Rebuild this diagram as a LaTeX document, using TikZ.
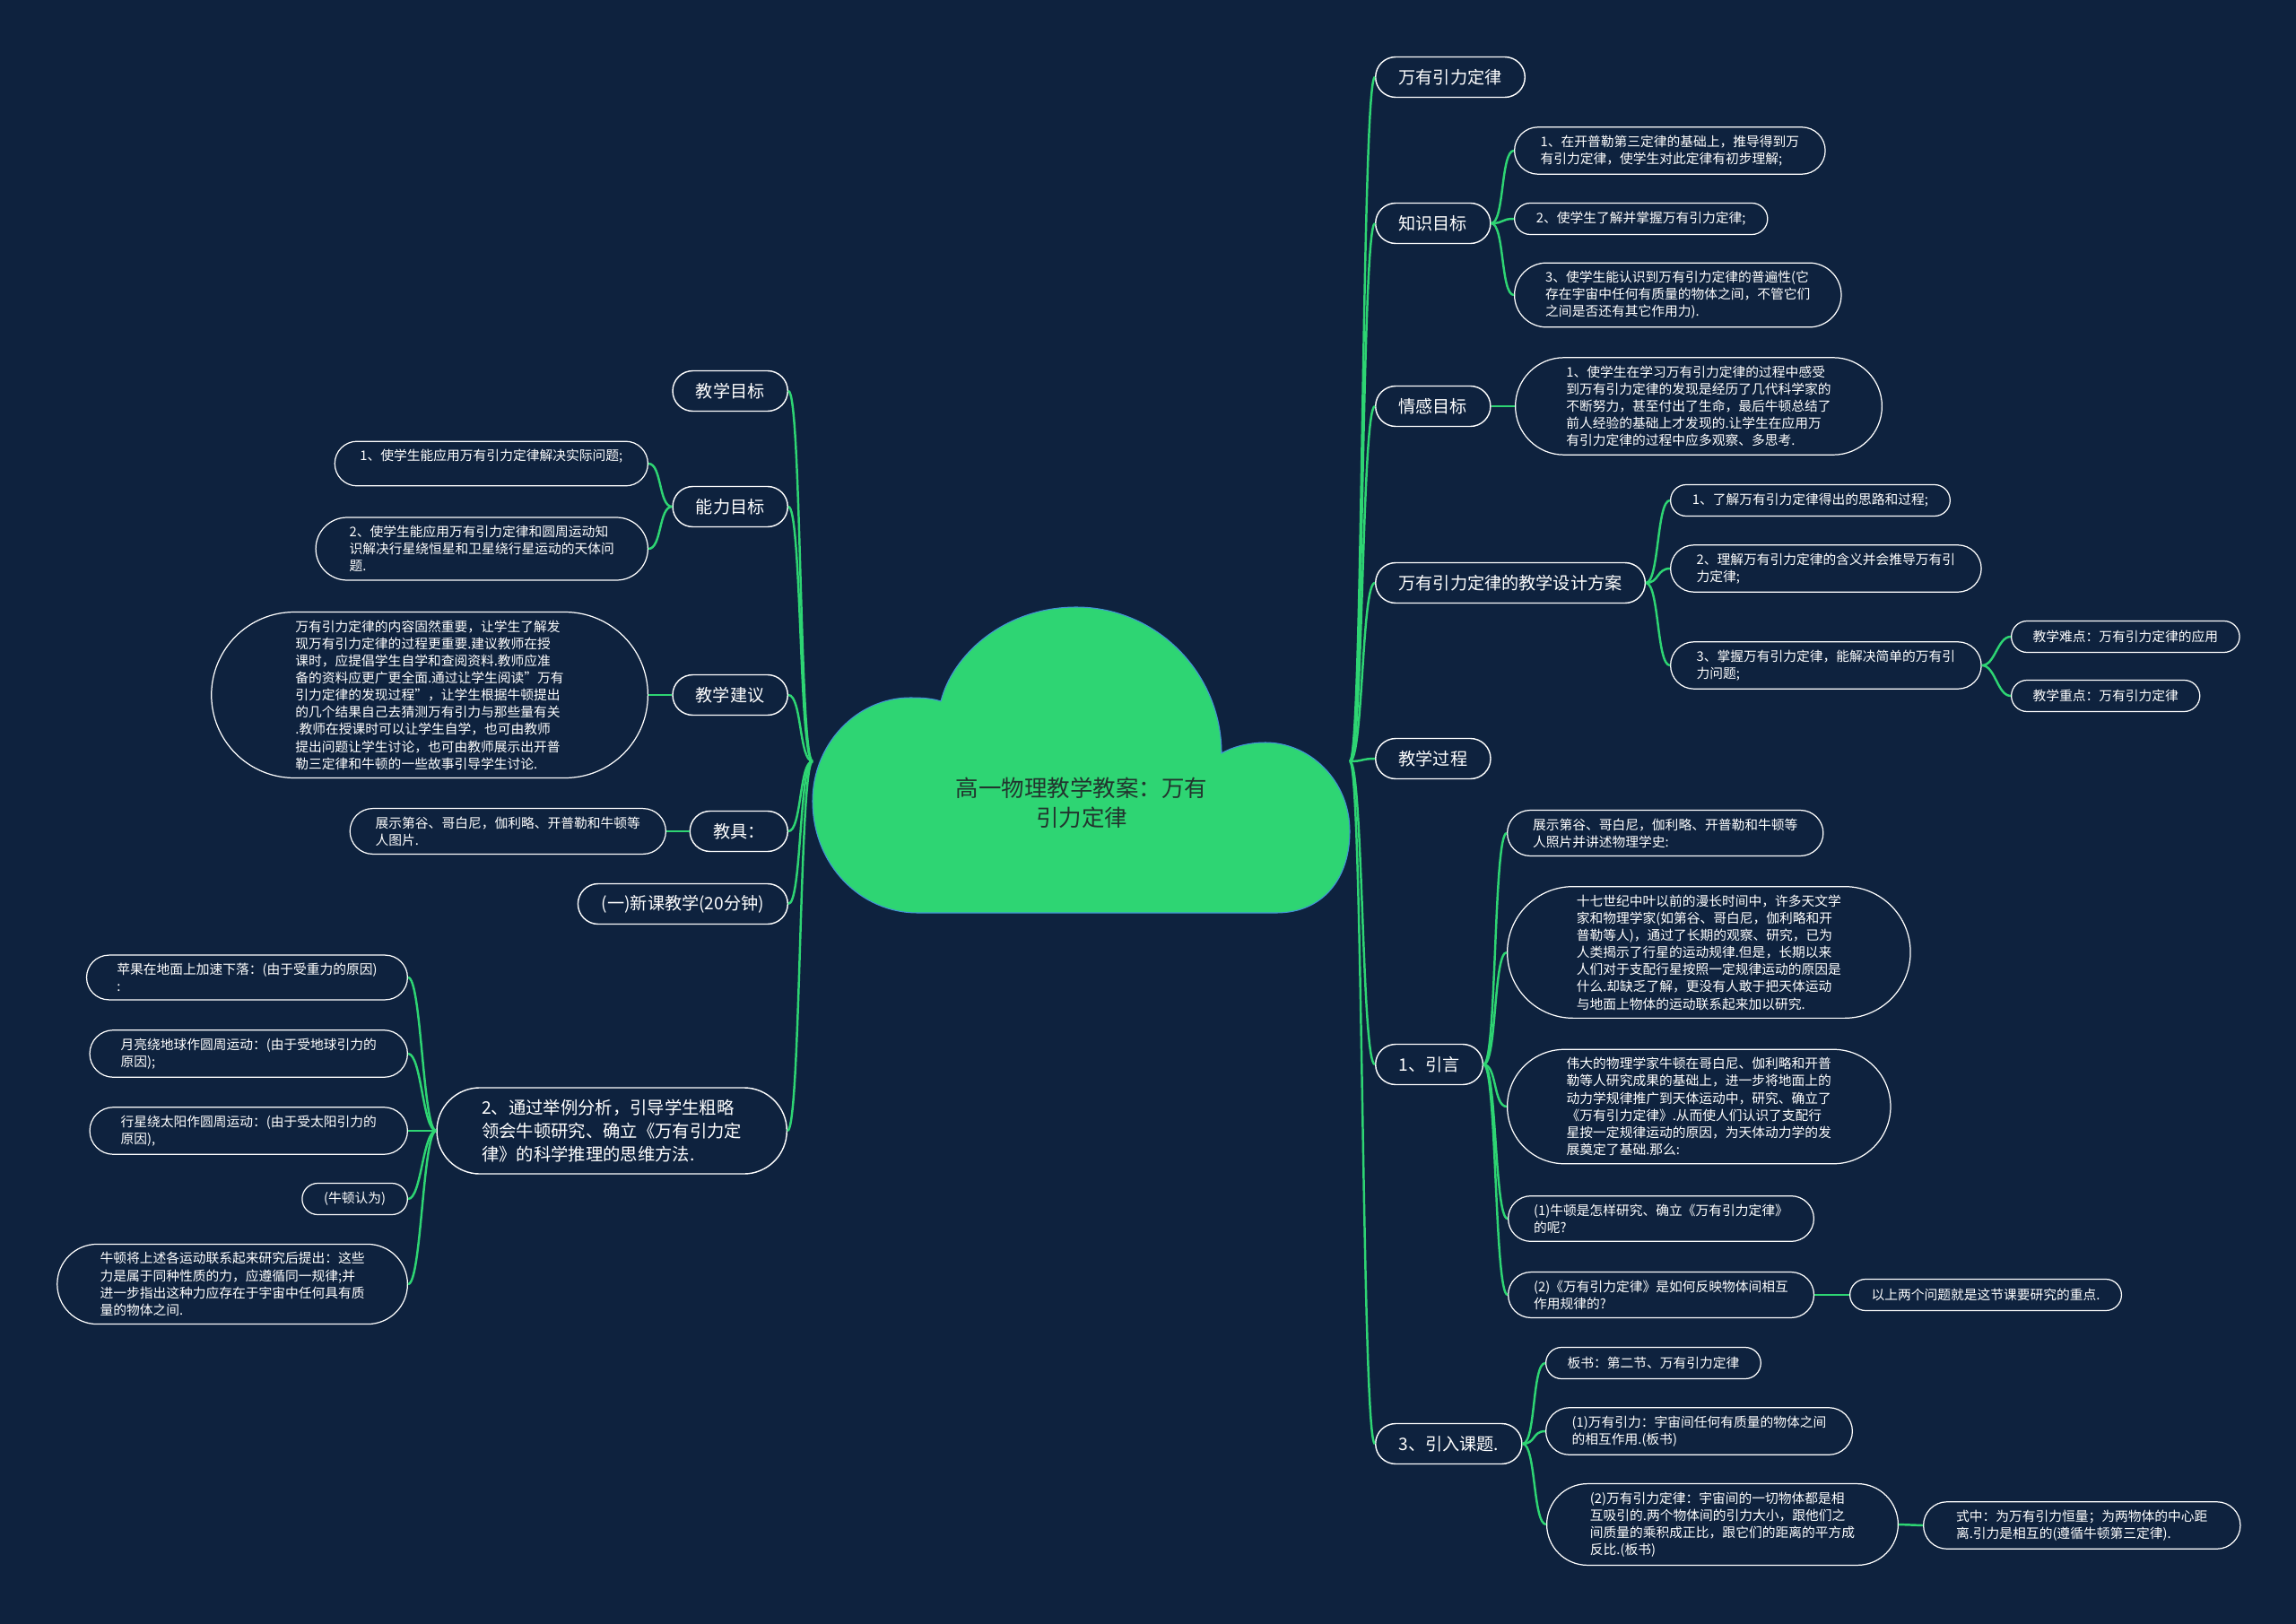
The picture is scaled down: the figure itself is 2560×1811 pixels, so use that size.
\documentclass[tikz,border=0pt]{standalone}
\usepackage{fontspec}
\setmainfont{Noto Sans CJK SC}
\usetikzlibrary{shapes.misc}
\definecolor{bgnavy}{RGB}{14,34,62}
\definecolor{mapgreen}{RGB}{46,213,115}
\definecolor{cloudline}{RGB}{66,146,214}
\definecolor{cloudtext}{RGB}{34,52,46}

\begin{document}
\begin{tikzpicture}[
  x=0.02cm, y=-0.02cm,
  topic/.style={draw=white, line width=0.8pt, fill=bgnavy, text=white, rounded rectangle, font=\fontsize{10.9}{14}\selectfont, inner xsep=0.48cm, inner ysep=0.1cm, minimum height=0.9cm},
  bigtopic/.style={topic, align=left, font=\fontsize{11}{14.8}\selectfont, inner xsep=0.7cm, inner ysep=0.26cm},
  leaf/.style={draw=white, line width=0.7pt, fill=bgnavy, text=white, rounded rectangle, align=left, font=\fontsize{8.4}{10.9}\selectfont, inner xsep=0.45cm, inner ysep=0.18cm, minimum height=0.7cm},
  link/.style={draw=mapgreen, line width=1.4pt}
]
\fill[bgnavy] (0,0) rectangle (2560,1811);

\coordinate (rootL) at (906,849);
\coordinate (rootR) at (1505,849);

% right side
\node[topic, anchor=west] (a1) at (1533,86) {万有引力定律};
\node[topic, anchor=west] (a2) at (1533,249) {知识目标};
\node[topic, anchor=west] (a3) at (1533,453) {情感目标};
\node[topic, anchor=west] (a4) at (1533,650) {万有引力定律的教学设计方案};
\node[topic, anchor=west] (a5) at (1533,846) {教学过程};
\node[topic, anchor=west] (a6) at (1533,1187) {1、引言};
\node[topic, anchor=west] (a7) at (1533,1610) {3、引入课题.};

\node[leaf, anchor=west] (k1) at (1688,168) {1、在开普勒第三定律的基础上，推导得到万\\有引力定律，使学生对此定律有初步理解;};
\node[leaf, anchor=west] (k2) at (1688,244) {2、使学生了解并掌握万有引力定律;};
\node[leaf, anchor=west] (k3) at (1688,329) {3、使学生能认识到万有引力定律的普遍性(它\\存在宇宙中任何有质量的物体之间，不管它们\\之间是否还有其它作用力).};
\node[leaf, anchor=west, inner xsep=0.65cm] (q1) at (1689,453) {1、使学生在学习万有引力定律的过程中感受\\到万有引力定律的发现是经历了几代科学家的\\不断努力，甚至付出了生命，最后牛顿总结了\\前人经验的基础上才发现的.让学生在应用万\\有引力定律的过程中应多观察、多思考.};
\node[leaf, anchor=west] (d1) at (1862,558) {1、了解万有引力定律得出的思路和过程;};
\node[leaf, anchor=west] (d2) at (1862,634) {2、理解万有引力定律的含义并会推导万有引\\力定律;};
\node[leaf, anchor=west] (d3) at (1862,742) {3、掌握万有引力定律，能解决简单的万有引\\力问题;};
\node[leaf, anchor=west] (d3a) at (2242,710) {教学难点：万有引力定律的应用};
\node[leaf, anchor=west] (d3b) at (2242,776) {教学重点：万有引力定律};
\node[leaf, anchor=west] (y1) at (1680,929) {展示第谷、哥白尼，伽利略、开普勒和牛顿等\\人照片并讲述物理学史:};
\node[leaf, anchor=west, inner xsep=0.78cm] (y2) at (1680,1062) {十七世纪中叶以前的漫长时间中，许多天文学\\家和物理学家(如第谷、哥白尼，伽利略和开\\普勒等人)，通过了长期的观察、研究，已为\\人类揭示了行星的运动规律.但是，长期以来\\人们对于支配行星按照一定规律运动的原因是\\什么.却缺乏了解，更没有人敢于把天体运动\\与地面上物体的运动联系起来加以研究.};
\node[leaf, anchor=west, inner xsep=0.7cm] (y3) at (1680,1234) {伟大的物理学家牛顿在哥白尼、伽利略和开普\\勒等人研究成果的基础上，进一步将地面上的\\动力学规律推广到天体运动中，研究、确立了\\《万有引力定律》.从而使人们认识了支配行\\星按一定规律运动的原因，为天体动力学的发\\展奠定了基础.那么:};
\node[leaf, anchor=west] (y4) at (1681,1359) {(1)牛顿是怎样研究、确立《万有引力定律》\\的呢?};
\node[leaf, anchor=west] (y5) at (1681,1444) {(2)《万有引力定律》是如何反映物体间相互\\作用规律的?};
\node[leaf, anchor=west] (y5a) at (2062,1444) {以上两个问题就是这节课要研究的重点.};
\node[leaf, anchor=west] (r1) at (1723,1520) {板书：第二节、万有引力定律};
\node[leaf, anchor=west] (r2) at (1723,1596) {(1)万有引力：宇宙间任何有质量的物体之间\\的相互作用.(板书)};
\node[leaf, anchor=west, inner xsep=0.6cm] (r3) at (1724,1700) {(2)万有引力定律：宇宙间的一切物体都是相\\互吸引的.两个物体间的引力大小，跟他们之\\间质量的乘积成正比，跟它们的距离的平方成\\反比.(板书)};
\node[leaf, anchor=west, inner xsep=0.6cm] (r3a) at (2144,1701) {式中：为万有引力恒量；为两物体的中心距\\离.引力是相互的(遵循牛顿第三定律).};

% left side
\node[topic, anchor=east] (b1) at (879,436) {教学目标};
\node[topic, anchor=east] (b2) at (879,565) {能力目标};
\node[topic, anchor=east] (b3) at (879,775) {教学建议};
\node[topic, anchor=east] (b4) at (879,927) {教具：};
\node[topic, anchor=east] (b5) at (879,1008) {(一)新课教学(20分钟)};
\node[bigtopic, anchor=east] (b6) at (878,1261) {2、通过举例分析，引导学生粗略\\领会牛顿研究、确立《万有引力定\\律》的科学推理的思维方法.};

\node[leaf, anchor=east] (n1) at (723,517) {1、使学生能应用万有引力定律解决实际问题;\\~};
\node[leaf, anchor=east, inner xsep=0.52cm] (n2) at (723,612) {2、使学生能应用万有引力定律和圆周运动知\\识解决行星绕恒星和卫星绕行星运动的天体问\\题.};
\node[leaf, anchor=east, inner xsep=0.82cm] (j1) at (723,775) {万有引力定律的内容固然重要，让学生了解发\\现万有引力定律的过程更重要.建议教师在授\\课时，应提倡学生自学和查阅资料.教师应准\\备的资料应更广更全面.通过让学生阅读"万有\\引力定律的发现过程"，让学生根据牛顿提出\\的几个结果自己去猜测万有引力与那些量有关\\.教师在授课时可以让学生自学，也可由教师\\提出问题让学生讨论，也可由教师展示出开普\\勒三定律和牛顿的一些故事引导学生讨论.};
\node[leaf, anchor=east] (t1) at (743,927) {展示第谷、哥白尼，伽利略、开普勒和牛顿等\\人图片.};
\node[leaf, anchor=east, inner xsep=0.56cm] (e1) at (455,1090) {苹果在地面上加速下落：(由于受重力的原因)\\:};
\node[leaf, anchor=east, inner xsep=0.56cm] (e2) at (455,1175) {月亮绕地球作圆周运动：(由于受地球引力的\\原因);};
\node[leaf, anchor=east, inner xsep=0.56cm] (e3) at (455,1261) {行星绕太阳作圆周运动：(由于受太阳引力的\\原因),};
\node[leaf, anchor=east] (e4) at (455,1337) {(牛顿认为)};
\node[leaf, anchor=east, inner xsep=0.6cm] (e5) at (455,1432) {牛顿将上述各运动联系起来研究后提出：这些\\力是属于同种性质的力，应遵循同一规律;并\\进一步指出这种力应存在于宇宙中任何具有质\\量的物体之间.};

% connectors, right
\draw[link] (rootR) .. controls +(15,0) and +(-15,0) .. (a1.west);
\draw[link] (rootR) .. controls +(15,0) and +(-15,0) .. (a2.west);
\draw[link] (rootR) .. controls +(15,0) and +(-15,0) .. (a3.west);
\draw[link] (rootR) .. controls +(15,0) and +(-15,0) .. (a4.west);
\draw[link] (rootR) .. controls +(15,0) and +(-15,0) .. (a5.west);
\draw[link] (rootR) .. controls +(15,0) and +(-15,0) .. (a6.west);
\draw[link] (rootR) .. controls +(15,0) and +(-15,0) .. (a7.west);
\draw[link] (a2.east) .. controls +(15,0) and +(-15,0) .. (k1.west);
\draw[link] (a2.east) .. controls +(15,0) and +(-15,0) .. (k2.west);
\draw[link] (a2.east) .. controls +(15,0) and +(-15,0) .. (k3.west);
\draw[link] (a3.east) -- (q1.west);
\draw[link] (a4.east) .. controls +(15,0) and +(-15,0) .. (d1.west);
\draw[link] (a4.east) .. controls +(15,0) and +(-15,0) .. (d2.west);
\draw[link] (a4.east) .. controls +(15,0) and +(-15,0) .. (d3.west);
\draw[link] (d3.east) .. controls +(15,0) and +(-15,0) .. (d3a.west);
\draw[link] (d3.east) .. controls +(15,0) and +(-15,0) .. (d3b.west);
\draw[link] (a6.east) .. controls +(15,0) and +(-15,0) .. (y1.west);
\draw[link] (a6.east) .. controls +(15,0) and +(-15,0) .. (y2.west);
\draw[link] (a6.east) .. controls +(15,0) and +(-15,0) .. (y3.west);
\draw[link] (a6.east) .. controls +(15,0) and +(-15,0) .. (y4.west);
\draw[link] (a6.east) .. controls +(15,0) and +(-15,0) .. (y5.west);
\draw[link] (y5.east) -- (y5a.west);
\draw[link] (a7.east) .. controls +(15,0) and +(-15,0) .. (r1.west);
\draw[link] (a7.east) .. controls +(15,0) and +(-15,0) .. (r2.west);
\draw[link] (a7.east) .. controls +(15,0) and +(-15,0) .. (r3.west);
\draw[link] (r3.east) -- (r3a.west);

% connectors, left
\draw[link] (b1.east) .. controls +(15,0) and +(-15,0) .. (rootL);
\draw[link] (b2.east) .. controls +(15,0) and +(-15,0) .. (rootL);
\draw[link] (b3.east) .. controls +(15,0) and +(-15,0) .. (rootL);
\draw[link] (b4.east) .. controls +(15,0) and +(-15,0) .. (rootL);
\draw[link] (b5.east) .. controls +(15,0) and +(-15,0) .. (rootL);
\draw[link] (b6.east) .. controls +(15,0) and +(-15,0) .. (rootL);
\draw[link] (n1.east) .. controls +(15,0) and +(-15,0) .. (b2.west);
\draw[link] (n2.east) .. controls +(15,0) and +(-15,0) .. (b2.west);
\draw[link] (j1.east) -- (b3.west);
\draw[link] (t1.east) -- (b4.west);
\draw[link] (e1.east) .. controls +(15,0) and +(-15,0) .. (b6.west);
\draw[link] (e2.east) .. controls +(15,0) and +(-15,0) .. (b6.west);
\draw[link] (e3.east) .. controls +(15,0) and +(-15,0) .. (b6.west);
\draw[link] (e4.east) .. controls +(15,0) and +(-15,0) .. (b6.west);
\draw[link] (e5.east) .. controls +(15,0) and +(-15,0) .. (b6.west);

% cloud
\filldraw[fill=mapgreen, draw=cloudline, line width=0.6pt]
  (1023,1018) -- (1423,1018) .. controls (1475,1018) and (1505,980) .. (1505,927)
  .. controls (1505,870) and (1460,828) .. (1411,828) .. controls (1390,828) and (1372,834) .. (1362,840)
  .. controls (1362,750) and (1289,677) .. (1200,677) .. controls (1120,677) and (1062,730) .. (1049,782)
  .. controls (1040,779) and (1030,778) .. (1015,778) .. controls (955,778) and (906,830) .. (906,893)
  .. controls (906,965) and (960,1018) .. (1023,1018) -- cycle;
\node[font=\fontsize{14.5}{19}\selectfont, text=cloudtext, align=center] (root) at (1206,895) {高一物理教学教案：万有\\引力定律};
\end{tikzpicture}
\end{document}
